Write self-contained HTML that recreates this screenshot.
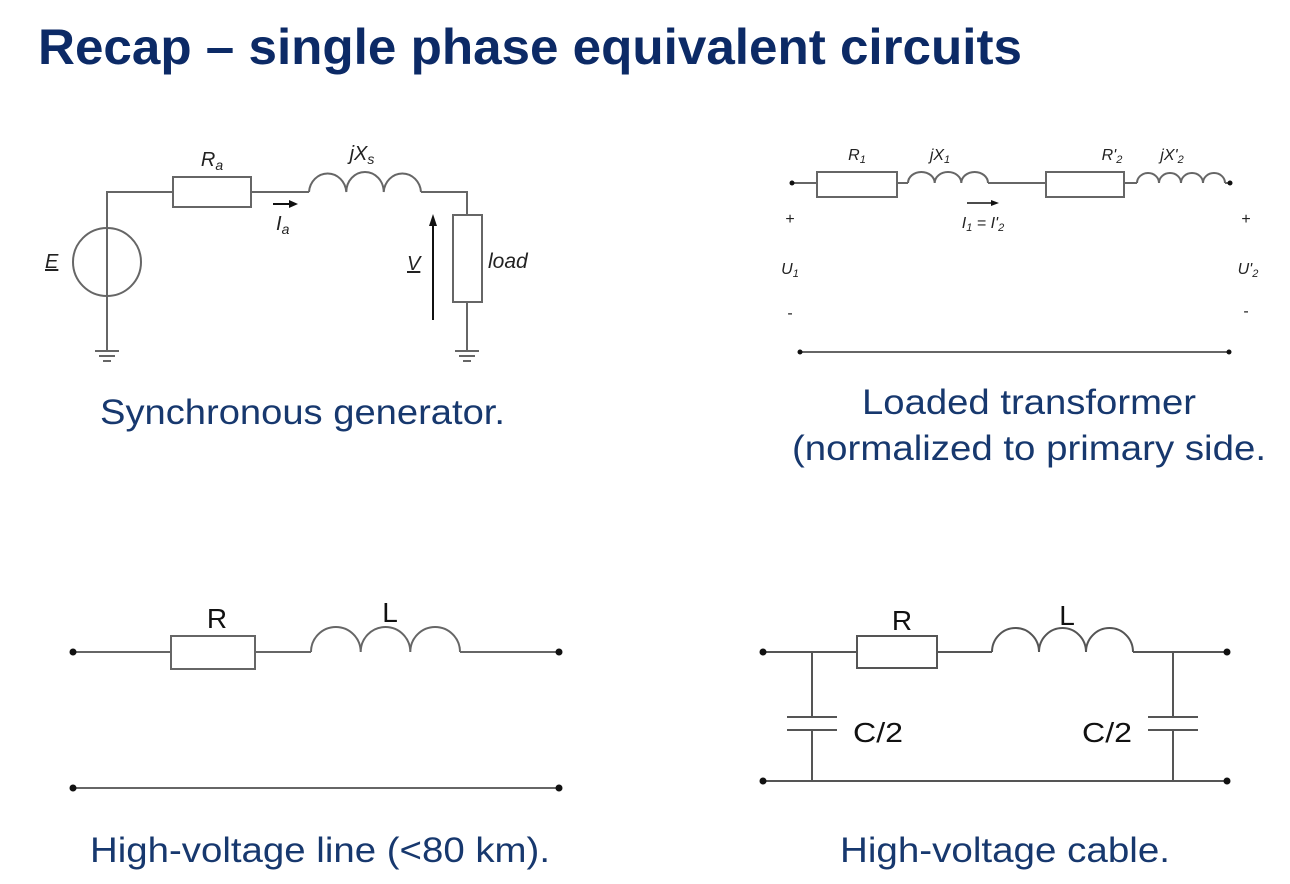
<!DOCTYPE html>
<html><head><meta charset="utf-8"><style>
html,body{margin:0;padding:0;background:#fff;}
svg{display:block;}
.w{stroke:#666;stroke-width:2;fill:none;}
.cap{font-family:"Liberation Sans",sans-serif;fill:#17386e;font-size:35px;}
.lab{font-family:"Liberation Sans",sans-serif;fill:#222;font-style:italic;}
.lb{font-family:"Liberation Sans",sans-serif;fill:#111;}
</style></head><body>
<svg width="1290" height="884" viewBox="0 0 1290 884">
<text x="38" y="64" textLength="984" lengthAdjust="spacingAndGlyphs" font-family="Liberation Sans, sans-serif" font-weight="bold" font-size="50" fill="#0c2a66">Recap – single phase equivalent circuits</text>

<!-- Synchronous generator -->
<g>
<path class="w" d="M107 350 V192 H173 M251 192 H309 M421 192 H467 V215 M467 302 V350"/>
<rect class="w" x="173" y="177" width="78" height="30"/>
<path class="w" d="M309 192 A18.7 20 0 0 1 346.3 192 A18.7 20 0 0 1 383.7 192 A18.7 20 0 0 1 421 192"/>
<rect class="w" x="453" y="215" width="29" height="87"/>
<circle class="w" cx="107" cy="262" r="34"/>
<path class="w" d="M95 351 H119 M99 356 H115 M103 361 H111 M455 351 H479 M459 356 H475 M463 361 H471"/>
<path d="M273 204 H292" stroke="#111" stroke-width="2"/><path d="M298 204 L289 200 L289 208 Z" fill="#111"/>
<path d="M433 320 V224" stroke="#111" stroke-width="2"/><path d="M433 214 L429 226 L437 226 Z" fill="#111"/>
<text class="lab" x="212" y="166" font-size="20" text-anchor="middle">R<tspan font-size="14" dy="4">a</tspan></text>
<text class="lab" x="362" y="160" font-size="20" text-anchor="middle">jX<tspan font-size="14" dy="4">s</tspan></text>
<text class="lab" x="276" y="230" font-size="20">I<tspan font-size="14" dy="4">a</tspan></text>
<text class="lab" x="45" y="268" font-size="20" text-decoration="underline">E</text>
<text class="lab" x="407" y="270" font-size="20" text-decoration="underline">V</text>
<text class="lab" x="488" y="268" font-size="21">load</text>
</g>
<text class="cap" x="100" y="424" textLength="405" lengthAdjust="spacingAndGlyphs">Synchronous generator.</text>

<!-- Transformer -->
<g>
<path class="w" d="M792 183 H817 M897 183 H908 M988 183 H1046 M1124 183 H1137 M1225 183 H1230 M800 352 H1229"/>
<rect class="w" x="817" y="172" width="80" height="25"/>
<rect class="w" x="1046" y="172" width="78" height="25"/>
<path class="w" d="M908 183 A13.3 11 0 0 1 934.7 183 A13.3 11 0 0 1 961.3 183 A13.3 11 0 0 1 988 183"/>
<path class="w" d="M1137 183 A11 10 0 0 1 1159 183 A11 10 0 0 1 1181 183 A11 10 0 0 1 1203 183 A11 10 0 0 1 1225 183"/>
<circle cx="792" cy="183" r="2.5" fill="#111"/><circle cx="1230" cy="183" r="2.5" fill="#111"/>
<circle cx="800" cy="352" r="2.5" fill="#111"/><circle cx="1229" cy="352" r="2.5" fill="#111"/>
<path d="M967 203 H994" stroke="#111" stroke-width="1.5"/><path d="M999 203 L991 200 L991 206 Z" fill="#111"/>
<g class="lab" font-size="16">
<text x="857" y="160" text-anchor="middle">R<tspan font-size="11" dy="3">1</tspan></text>
<text x="940" y="160" text-anchor="middle">jX<tspan font-size="11" dy="3">1</tspan></text>
<text x="1112" y="160" text-anchor="middle">R'<tspan font-size="11" dy="3">2</tspan></text>
<text x="1172" y="160" text-anchor="middle">jX'<tspan font-size="11" dy="3">2</tspan></text>
<text x="983" y="228" text-anchor="middle">I<tspan font-size="11" dy="3">1</tspan><tspan dy="-3"> = I'</tspan><tspan font-size="11" dy="3">2</tspan></text>
<text x="790" y="274" text-anchor="middle">U<tspan font-size="11" dy="3">1</tspan></text>
<text x="1248" y="274" text-anchor="middle">U'<tspan font-size="11" dy="3">2</tspan></text>
<text x="790" y="224" text-anchor="middle" font-style="normal">+</text>
<text x="1246" y="224" text-anchor="middle" font-style="normal">+</text>
<text x="790" y="318" text-anchor="middle" font-style="normal">-</text>
<text x="1246" y="316" text-anchor="middle" font-style="normal">-</text>
</g>
</g>
<text class="cap" x="862" y="414" textLength="334" lengthAdjust="spacingAndGlyphs">Loaded transformer</text>
<text class="cap" x="792" y="460" textLength="474" lengthAdjust="spacingAndGlyphs">(normalized to primary side.</text>

<!-- HV line -->
<g>
<path class="w" d="M73 652 H171 M255 652 H311 M460 652 H559 M73 788 H559"/>
<rect class="w" x="171" y="636" width="84" height="33"/>
<path class="w" d="M311 652 A24.8 25 0 0 1 360.7 652 A24.8 25 0 0 1 410.3 652 A24.8 25 0 0 1 460 652"/>
<circle cx="73" cy="652" r="3.5" fill="#111"/><circle cx="559" cy="652" r="3.5" fill="#111"/>
<circle cx="73" cy="788" r="3.5" fill="#111"/><circle cx="559" cy="788" r="3.5" fill="#111"/>
<text class="lb" x="217" y="628" font-size="28" text-anchor="middle">R</text>
<text class="lb" x="390" y="622" font-size="28" text-anchor="middle">L</text>
</g>
<text class="cap" x="90" y="862" textLength="460" lengthAdjust="spacingAndGlyphs">High-voltage line (&lt;80 km).</text>

<!-- HV cable -->
<g>
<path class="w" style="stroke:#555" d="M763 652 H857 M937 652 H992 M1133 652 H1227 M763 781 H1227 M812 652 V717 M812 730 V781 M1173 652 V717 M1173 730 V781 M787 717 H837 M787 730 H837 M1148 717 H1198 M1148 730 H1198"/>
<rect class="w" style="stroke:#555" x="857" y="636" width="80" height="32"/>
<path class="w" style="stroke:#555" d="M992 652 A23.5 24 0 0 1 1039 652 A23.5 24 0 0 1 1086 652 A23.5 24 0 0 1 1133 652"/>
<circle cx="763" cy="652" r="3.5" fill="#111"/><circle cx="1227" cy="652" r="3.5" fill="#111"/>
<circle cx="763" cy="781" r="3.5" fill="#111"/><circle cx="1227" cy="781" r="3.5" fill="#111"/>
<text class="lb" x="902" y="630" font-size="28" text-anchor="middle">R</text>
<text class="lb" x="1067" y="625" font-size="28" text-anchor="middle">L</text>
<text class="lb" x="853" y="742" font-size="28" textLength="50" lengthAdjust="spacingAndGlyphs">C/2</text>
<text class="lb" x="1082" y="742" font-size="28" textLength="50" lengthAdjust="spacingAndGlyphs">C/2</text>
</g>
<text class="cap" x="840" y="862" textLength="330" lengthAdjust="spacingAndGlyphs">High-voltage cable.</text>
</svg>
</body></html>
